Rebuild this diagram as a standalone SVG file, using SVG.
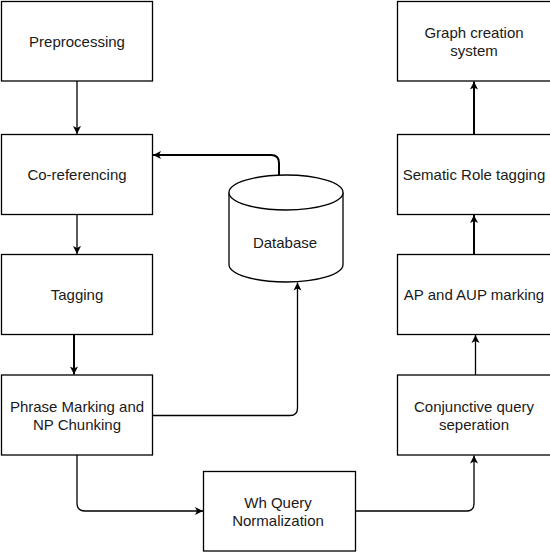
<svg xmlns="http://www.w3.org/2000/svg" width="550" height="552" viewBox="0 0 550 552">
<defs>
<marker id="arr" markerUnits="userSpaceOnUse" markerWidth="10" markerHeight="10" viewBox="0 0 10 10" refX="9" refY="5" orient="auto">
<path d="M1,1 L9,5 L1,9 L3,5 z" fill="#000"/>
</marker>
<style>
.box{fill:#fff;stroke:#000;stroke-width:1.3}
.t{font-family:"Liberation Sans",Arial,sans-serif;font-size:15px;fill:#1a1a1a;text-anchor:middle}
.c{fill:none;stroke:#000;stroke-width:1.3}
.ct{fill:none;stroke:#000;stroke-width:2}
</style>
</defs>
<rect width="550" height="552" fill="#fff"/>
<g id="connectors">
<path class="c" d="M77,81 L77,134" marker-end="url(#arr)"/>
<path class="c" d="M77,214.5 L77,254" marker-end="url(#arr)"/>
<path class="ct" d="M74,334.5 L74,374.5" marker-end="url(#arr)"/>
<path class="ct" d="M279,175 L279,163 Q279,155 271,155 L153,155" marker-end="url(#arr)"/>
<path class="c" d="M152.5,415.5 L290,415.5 Q297.5,415.5 297.5,408 L297.5,282.5" marker-end="url(#arr)"/>
<path class="c" d="M77,455 L77,503 Q77,511 85,511 L203,511" marker-end="url(#arr)"/>
<path class="c" d="M356,511 L467,511 Q474,511 474,503 L474,455.5" marker-end="url(#arr)"/>
<path class="c" d="M475.5,375 L475.5,335" marker-end="url(#arr)"/>
<path class="ct" d="M474,254.5 L474,215" marker-end="url(#arr)"/>
<path class="ct" d="M474,134.5 L474,81.5" marker-end="url(#arr)"/>
</g>
<g id="preprocessing"><rect class="box" x="1.5" y="1.5" width="151" height="79.5"/><text class="t" x="77" y="47">Preprocessing</text></g>
<g id="coreferencing"><rect class="box" x="1.5" y="134.5" width="151" height="80"/><text class="t" x="77" y="180">Co-referencing</text></g>
<g id="tagging"><rect class="box" x="1.5" y="254.5" width="151" height="80"/><text class="t" x="77" y="300">Tagging</text></g>
<g id="phrase"><rect class="box" x="1.5" y="375" width="151" height="80"/><text class="t" x="77" y="412">Phrase Marking and</text><text class="t" x="77" y="430">NP Chunking</text></g>
<g id="database">
<path class="box" d="M229,192.5 L229,264.5 A57,17.5 0 0 0 343,264.5 L343,192.5"/>
<ellipse class="box" cx="286" cy="192.5" rx="57" ry="17.5"/>
<text class="t" x="285" y="248">Database</text>
</g>
<g id="whquery"><rect class="box" x="203.5" y="471.5" width="152" height="79.5"/><text class="t" x="278" y="508">Wh Query</text><text class="t" x="278" y="526">Normalization</text></g>
<g id="graph"><rect class="box" x="397.5" y="1.5" width="156" height="79.5"/><text class="t" x="474" y="38">Graph creation</text><text class="t" x="474" y="56">system</text></g>
<g id="sematic"><rect class="box" x="397.5" y="134.5" width="156" height="80"/><text class="t" x="474" y="180">Sematic Role tagging</text></g>
<g id="ap"><rect class="box" x="397.5" y="254.5" width="156" height="80"/><text class="t" x="474" y="300">AP and AUP marking</text></g>
<g id="conjunctive"><rect class="box" x="397.5" y="375" width="156" height="80"/><text class="t" x="474" y="412">Conjunctive query</text><text class="t" x="474" y="430">seperation</text></g>
</svg>
